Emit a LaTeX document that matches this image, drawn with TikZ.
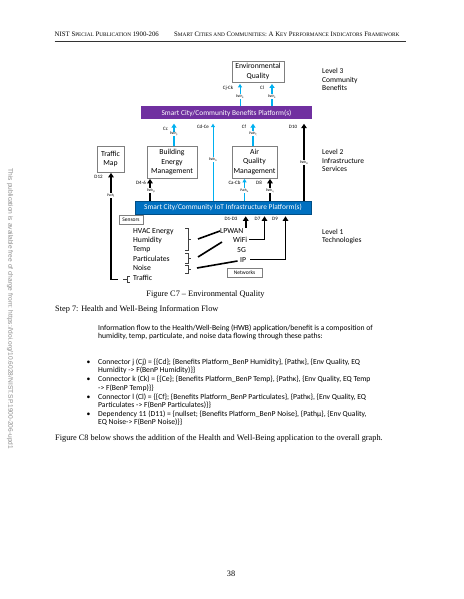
\documentclass[tikz,border=0pt]{standalone}
\usepackage{fontspec}
\setmainfont{Liberation Serif}
\newfontfamily\calfont{Carlito}
\newfontfamily\arialfont{Liberation Sans}
\usetikzlibrary{arrows.meta}
\definecolor{bpurple}{RGB}{112,48,160}
\definecolor{iblue}{RGB}{0,112,192}
\definecolor{carrow}{RGB}{0,176,240}
\definecolor{boxgray}{RGB}{127,127,127}
\newcommand\smc[1]{{\fontsize{5.3}{6}\selectfont #1}}
\begin{document}
\begin{tikzpicture}[x=1pt,y=-1pt,
  dtext/.style={font=\calfont\fontsize{7.7}{9.6}\selectfont},
  box/.style={draw=boxgray, line width=0.7pt, fill=white, align=center, inner sep=0pt, dtext},
  barnode/.style={inner sep=0pt, text=white, font=\calfont\fontsize{7.4}{8}\selectfont},
  lbl/.style={font=\calfont\fontsize{5}{6}\selectfont, inner sep=0.5pt},
  pth/.style={font=\calfont\fontsize{3.6}{4}\selectfont, fill=white, inner sep=0.3pt},
  thickc/.style={draw=carrow, line width=1.5pt, -{Triangle[width=5pt,length=4pt]}},
  thinc/.style={draw=carrow, line width=0.8pt, -{Triangle[width=4pt,length=3.5pt]}},
  blk/.style={draw=black, line width=1.6pt, -{Triangle[width=5.5pt,length=4.5pt]}},
  brk/.style={draw=black!75, line width=0.5pt},
  lnk/.style={draw=black, line width=1.6pt},
  lvl/.style={font=\calfont\fontsize{7.5}{8.8}\selectfont, align=left, anchor=west, inner sep=0pt},
  item/.style={dtext, anchor=base west, inner sep=0pt},
  serif/.style={font=\fontsize{8.3}{10}\selectfont, inner sep=0pt},
  para/.style={font=\calfont\fontsize{7.65}{8.5}\selectfont, inner sep=0pt, anchor=base west},
  smallbox/.style={draw=boxgray, line width=0.6pt, fill=white, inner sep=0pt, font=\calfont\fontsize{5.5}{6}\selectfont}
]
\useasboundingbox[fill=white] (0,0) rectangle (463,599);

% header
\node[anchor=base west, inner sep=0pt, font=\fontsize{6.8}{8}\selectfont] (h1) at (54.5,36.5)
  {NIST S\smc{PECIAL} P\smc{UBLICATION} 1900-206};
\node[anchor=base west, inner sep=0pt, font=\fontsize{6.8}{8}\selectfont] (h2) at (174,36.5)
  {S\smc{MART} C\smc{ITIES AND} C\smc{OMMUNITIES}: A K\smc{EY} P\smc{ERFORMANCE} I\smc{NDICATORS} F\smc{RAMEWORK}};
\coordinate (hl1) at (54.5,41.5);
\coordinate (hl2) at (406,41.5);
\draw[black!80, line width=0.8pt] (hl1) -- (hl2);

% side text
\node[rotate=-90, inner sep=0pt, text=black!45, font=\arialfont\fontsize{6.6}{7}\selectfont] (side) at (10,309)
  {This publication is available free of charge from: https://doi.org/10.6028/NIST.SP.1900-206-upd1};

% ---------- diagram ----------
\node[box, minimum width=52pt, minimum height=21pt] (env) at (258,71.5) {Environmental\\Quality};
\node[barnode, fill=bpurple, minimum width=171pt, minimum height=13pt] (bp) at (226.5,113)
  {Smart City/Community Benefits Platform(s)};
\node[barnode, fill=iblue, draw=iblue!70!black, line width=0.6pt, minimum width=176pt, minimum height=13pt] (ip) at (223,207.5)
  {Smart City/Community IoT Infrastructure Platform(s)};

\node[box, minimum width=27pt, minimum height=26pt] (tm) at (110.5,159) {Traffic\\Map};
\node[box, minimum width=50pt, minimum height=32pt] (bem) at (172,162) {Building\\Energy\\Management};
\node[box, minimum width=45pt, minimum height=32pt] (aqm) at (254.5,162) {Air\\Quality\\Management};

% levels
\node[lvl] (lv3) at (322,79.5) {Level 3\\Community\\Benefits};
\node[lvl] (lv2) at (322,160.5) {Level 2\\Infrastructure\\Services};
\node[lvl] (lv1) at (322,236.5) {Level 1\\Technologies};

% x positions of connectors
\coordinate (xcjk) at (240,0);
\coordinate (xcl) at (272,0);
\coordinate (xcc) at (174,0);
\coordinate (xcde) at (213,0);
\coordinate (xcf) at (253,0);
\coordinate (xd10) at (304,0);
\coordinate (xd46) at (150,0);
\coordinate (xcab) at (244.5,0);
\coordinate (xd8) at (270,0);

% level 3 connectors
\draw[thinc, shorten >=1.5pt] (bp.north -| xcjk) -- (env.south -| xcjk);
\draw[thickc, shorten >=1.5pt] (bp.north -| xcl) -- (env.south -| xcl);
\node[lbl] (lcjk) at (228,88) {Cj-Ck};
\node[lbl] (lcl) at (262,88) {Cl};
\node[pth] (pcjk) at (240,96.5) {Path\textsubscript{κ}};
\node[pth] (pcl) at (272,96.5) {Path\textsubscript{κ}};

% level 2 connectors
\draw[thickc, shorten >=4pt] (bem.north -| xcc) -- (bp.south -| xcc);
\draw[thinc, shorten >=4pt] (ip.north -| xcde) -- (bp.south -| xcde);
\draw[thickc, shorten >=4pt] (aqm.north -| xcf) -- (bp.south -| xcf);
\draw[blk, shorten >=4pt] (ip.north -| xd10) -- (bp.south -| xd10);
\draw[blk, shorten >=0.5pt] (ip.north -| xd46) -- (bem.south -| xd46);
\draw[thinc, shorten >=0.5pt] (ip.north -| xcab) -- (aqm.south -| xcab);
\draw[blk, shorten >=0.5pt] (ip.north -| xd8) -- (aqm.south -| xd8);

\node[lbl] (lcc) at (165.5,128.5) {Cc};
\node[pth] (pcc) at (174,134) {Path\textsubscript{γ}};
\node[lbl] (lcde) at (203,127) {Cd-Ce};
\node[pth] (pcde) at (213,159.5) {Path\textsubscript{δ}};
\node[lbl] (lcf) at (244,127) {Cf};
\node[pth] (pcf) at (253,133.5) {Path\textsubscript{ζ}};
\node[lbl] (ld10) at (293,127) {D10};
\node[pth] (pd10) at (304,162.5) {Path\textsubscript{θ}};
\node[lbl] (ld46) at (141,182.5) {D4-6};
\node[pth] (pd46) at (151,190.5) {Path\textsubscript{β}};
\node[lbl] (lcab) at (234.5,182.5) {Ca-Cb};
\node[pth] (pcab) at (244.5,190.5) {Path\textsubscript{α}};
\node[lbl] (ld8) at (259,182.5) {D8};
\node[pth] (pd8) at (270,190.5) {Path\textsubscript{η}};
\node[lbl] (ld12) at (98.5,177) {D12};

% level 1: sensors
\node[smallbox, minimum width=24pt, minimum height=9pt] (sens) at (131,220) {Sensors};
\node[item] (s1) at (133,233.2) {HVAC Energy};
\node[item] (s2) at (133,242.5) {Humidity};
\node[item] (s3) at (133,251.8) {Temp};
\node[item] (s4) at (133,261.5) {Particulates};
\node[item] (s5) at (133,270.8) {Noise};
\node[item] (s6) at (133,280.2) {Traffic};

% brackets
\draw[brk] (185,228) -- (188,228) -- (188,250) -- (185,250);
\draw[brk] (188,239) -- (191,239);
\draw[brk] (185,253) -- (188,253) -- (188,263) -- (185,263);
\draw[brk] (188,258) -- (191,258);
\draw[brk] (185,265.5) -- (188,265.5) -- (188,273) -- (185,273);
\draw[brk] (188,269) -- (191,269);
\draw[brk] (130,276) -- (127,276) -- (127,282.5) -- (130,282.5);
\draw[brk] (127,279.3) -- (123,279.3);

% networks
\node[item] (lpwan) at (220,233) {LPWAN};
\node[item] (wifi) at (233,242.5) {WiFi};
\node[item] (g5) at (237,252) {5G};
\node[item] (ipn) at (240,262) {IP};
\node[smallbox, minimum width=35pt, minimum height=9pt] (netw) at (244.5,272.5) {Networks};

\coordinate (a1) at (198,239);  \coordinate (e1) at (220,231);
\coordinate (a2) at (198,257);  \coordinate (e2) at (222,242);
\coordinate (a3) at (197,268);  \coordinate (e3) at (237.5,261);
\draw[lnk] (a1) -- (e1);
\draw[lnk] (a2) -- (e2);
\draw[lnk] (a3) -- (e3);

\coordinate (xd13) at (245.7,0);
\coordinate (xd7) at (264.5,0);
\coordinate (xd9) at (285.5,0);
\coordinate (wifiend) at (249,239.5);
\coordinate (ipend) at (250,259.5);
\coordinate (lpwtop) at (245.7,227.5);
\draw[blk, shorten >=2pt] (lpwtop) -- (ip.south -| xd13);
\draw[blk, shorten >=2pt, line join=miter] (wifiend) -- (wifiend -| xd7) -- (ip.south -| xd7);
\draw[blk, shorten >=2pt, line join=miter] (ipend) -- (ipend -| xd9) -- (ip.south -| xd9);
\node[lbl] (ld13) at (231,219) {D1-D3};
\node[lbl] (ld7) at (257.5,219) {D7};
\node[lbl] (ld9) at (275,218.5) {D9};

% traffic path
\coordinate (tstart) at (118,279.5);
\coordinate (tcorner) at (111,279.5);
\draw[blk, shorten >=0.5pt, line join=miter] (tstart) -- (tcorner) -- (tm.south -| tcorner);
\node[pth] (pd12) at (111,195.5) {Path\textsubscript{ι}};

% ---------- text ----------
\node[serif, anchor=base] (cap) at (205.5,296) {Figure C7 – Environmental Quality};
\node[serif, anchor=base west] (step) at (55,311.5) {Step 7: Health and Well-Being Information Flow};
\node[para] (p1) at (98,330.5) {Information flow to the Health/Well-Being (HWB) application/benefit is a composition of};
\node[para] (p2) at (98,338.7) {humidity, temp, particulate, and noise data flowing through these paths:};

\node[para] (b1) at (86.5,364) {•};
\node[para] (t1a) at (98,364) {Connector j (Cj) = \{\{Cd\}; \{Benefits Platform\_BenP Humidity\}, \{Pathκ\}, \{Env Quality, EQ};
\node[para] (t1b) at (98,372.5) {Humidity -> F(BenP Humidity)\}\}};
\node[para] (b2) at (86.5,381.5) {•};
\node[para] (t2a) at (98,381.5) {Connector k (Ck) = \{\{Ce\}; \{Benefits Platform\_BenP Temp\}, \{Pathκ\}, \{Env Quality, EQ Temp};
\node[para] (t2b) at (98,390) {-> F(BenP Temp)\}\}};
\node[para] (b3) at (86.5,399) {•};
\node[para] (t3a) at (98,399) {Connector l (Cl) = \{\{Cf\}; \{Benefits Platform\_BenP Particulates\}, \{Pathκ\}, \{Env Quality, EQ};
\node[para] (t3b) at (98,407.5) {Particulates -> F(BenP Particulates)\}\}};
\node[para] (b4) at (86.5,416) {•};
\node[para] (t4a) at (98,416) {Dependency 11 (D11) = \{nullset; \{Benefits Platform\_BenP Noise\}, \{Pathμ\}, \{Env Quality,};
\node[para] (t4b) at (98,424.5) {EQ Noise-> F(BenP Noise)\}\}};

\node[serif, anchor=base west] (c8) at (55,440.5) {Figure C8 below shows the addition of the Health and Well-Being application to the overall graph.};

\node[serif, anchor=base] (pg) at (231,576) {38};
\end{tikzpicture}
\end{document}
